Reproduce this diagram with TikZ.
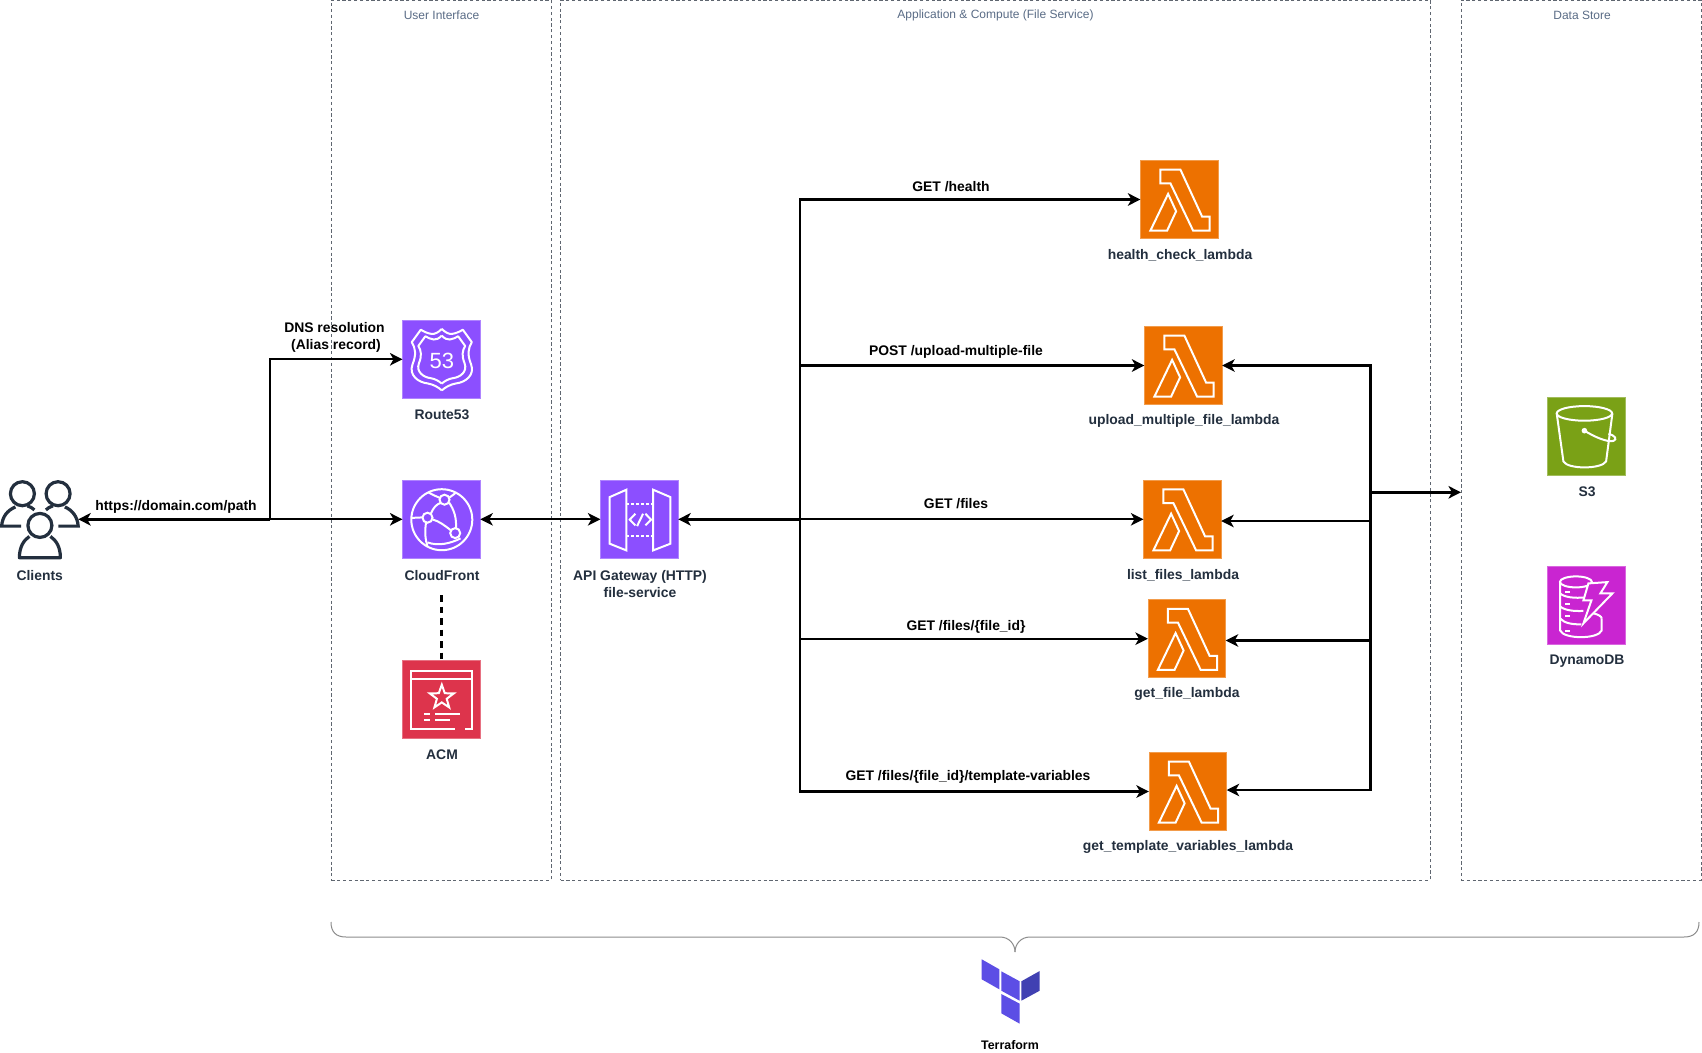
\documentclass[tikz,border=0pt]{standalone}
\usepackage{fontspec}
\setmainfont{Liberation Sans}
\usetikzlibrary{arrows.meta}
\definecolor{ink}{HTML}{232F3E}
\definecolor{groupc}{HTML}{5F6670}
\definecolor{grouptext}{HTML}{5A6C86}
\definecolor{lambdac}{HTML}{ED7100}
\definecolor{purplec}{HTML}{8C4FFF}
\definecolor{redc}{HTML}{DD344C}
\definecolor{greenc}{HTML}{7AA116}
\definecolor{pinkc}{HTML}{C925D1}
\definecolor{tfa}{HTML}{5C4EE5}
\definecolor{tfb}{HTML}{4040B2}
\tikzset{
  icon/.style={minimum size=77.8pt,inner sep=0,outer sep=0,line width=.8pt},
  lambdaicon/.style={icon,fill=lambdac,draw=lambdac!70!white},
  purpleicon/.style={icon,fill=purplec,draw=purplec!70!white},
  redicon/.style={icon,fill=redc,draw=redc!70!white},
  greenicon/.style={icon,fill=greenc,draw=greenc!70!white},
  pinkicon/.style={icon,fill=pinkc,draw=pinkc!70!white},
  glyph/.style={draw=white,line width=2pt,line join=miter,fill=none},
  svc/.style={font=\bfseries\fontsize{13.9}{17}\selectfont,text=ink,align=center,inner sep=0,outer sep=0,yshift=-1.1pt},
  edgelabel/.style={font=\bfseries\fontsize{13.9}{17}\selectfont,text=black,align=center,inner sep=0,outer sep=0,yshift=-1.1pt},
  grouplabel/.style={font=\fontsize{12}{14}\selectfont,text=grouptext,inner sep=0,outer sep=0,yshift=-.6pt},
  groupbox/.style={draw=groupc,line width=.8pt,dash pattern=on 3.2pt off 2.6pt,inner sep=0,outer sep=0},
  conn/.style={draw=black,line width=2.2pt,-{Stealth[length=12.5pt,width=12.5pt,inset=3.5pt]}},
  connboth/.style={conn,{Stealth[length=12.5pt,width=12.5pt,inset=3.5pt]}-{Stealth[length=12.5pt,width=12.5pt,inset=3.5pt]}},
  heavy/.style={line width=3.2pt},
  plainline/.style={draw=black,line width=2.2pt},
  bracec/.style={draw=black!45,line width=1pt},
}
\newcommand{\lambdaglyph}[1]{%
  \begin{scope}[shift={(#1.north west)}]
    \draw[glyph] (20,9)--(40,9)--(61.7,56)--(69.3,56)--(69.3,70)--(52.7,70)--(30,22.7)--(20,22.7)--cycle;
    \draw[glyph] (27.7,33.3)--(35.7,50.7)--(26.7,70)--(10,70)--cycle;
  \end{scope}}
\newcommand{\halfshield}{%
  \draw[glyph,line join=round] (39.3,8.5) .. controls (36,12) and (32,14) .. (29,13.5) .. controls (25,13) and (21,11) .. (18.3,9.3) -- (9.3,21.7) .. controls (13,28) and (14,34) .. (10,44) .. controls (6,55) and (16,62) .. (25,63) .. controls (31,64) and (36,67) .. (39.3,70);}
\begin{document}
\begin{tikzpicture}[x=1pt,y=-1pt]
\useasboundingbox (0,0) rectangle (1702,1052);
\fill[white] (0,0) rectangle (1702,1052);

% groups
\node[groupbox,minimum width=219.6pt,minimum height=880pt,anchor=north west] (uigroup) at (331.4,0) {};
\node[groupbox,minimum width=869.4pt,minimum height=880pt,anchor=north west] (appgroup) at (560.6,0) {};
\node[groupbox,minimum width=240pt,minimum height=880pt,anchor=north west] (datagroup) at (1461,0) {};
\node[grouplabel] (uilabel) at (441.5,15) {User Interface};
\node[grouplabel] (applabel) at (995.5,15) {Application \& Compute (File Service)};
\node[grouplabel] (datalabel) at (1582,15) {Data Store};

% icons
\node[icon] (clients) at (39.3,519.3) {};
\node[purpleicon] (route53) at (441.4,359.3) {};
\node[purpleicon] (cloudfront) at (441.4,519.3) {};
\node[redicon] (acm) at (441.4,699.3) {};
\node[purpleicon] (api) at (639.3,519.3) {};
\node[lambdaicon] (health) at (1179.3,199.5) {};
\node[lambdaicon] (upload) at (1183.3,365.5) {};
\node[lambdaicon] (listf) at (1182.3,519.3) {};
\node[lambdaicon] (getfile) at (1186.8,638.7) {};
\node[lambdaicon] (gettpl) at (1187.8,791.5) {};
\node[greenicon] (s3) at (1586.3,436.3) {};
\node[pinkicon] (dynamo) at (1586.3,605.3) {};

% glyphs
\lambdaglyph{health}\lambdaglyph{upload}\lambdaglyph{listf}\lambdaglyph{getfile}\lambdaglyph{gettpl}

% clients glyph
\begin{scope}[shift={(clients.north west)},ink,line width=3.2pt]
  \draw (22,13.3) circle (12);
  \draw (57.7,13.3) circle (12);
  \draw (39.5,45) circle (12);
  \draw (20.7,45.7) -- (1.2,45.7) .. controls (2,36) and (7,30) .. (15,26.5);
  \draw (27,25.5) .. controls (30,26.5) and (32,27.5) .. (34,29.5);
  \draw (58,45.7) -- (77.8,45.7) .. controls (77,36) and (72,30) .. (64.5,26.5);
  \draw (52.5,25.5) .. controls (49.5,26.5) and (47.5,27.5) .. (45.5,29.5);
  \draw[line join=round] (29,56) .. controls (23,60) and (19,67) .. (19,77.3) -- (60,77.3) .. controls (60,67) and (56,60) .. (50,56);
\end{scope}

% route53 glyph
\begin{scope}[shift={(route53.north west)}]
  \halfshield
  \begin{scope}[shift={(78.6,0)},xscale=-1]\halfshield\end{scope}
  \begin{scope}[shift={(8.6,8.6)},scale=.78]
    \halfshield
    \begin{scope}[shift={(78.6,0)},xscale=-1]\halfshield\end{scope}
  \end{scope}
  \node[text=white,font=\fontsize{22}{22}\selectfont,inner sep=0] (r53num) at (39.3,40.5) {53};
\end{scope}

% cloudfront glyph
\begin{scope}[shift={(cloudfront.north west)}]
  \draw[glyph] (39.3,39.3) circle (30.5);
  \draw[glyph] (28.5,33) .. controls (31,27) and (34,24) .. (38,22.5);
  \draw[glyph] (46.5,22) .. controls (52,30) and (54,38) .. (53.5,47.5);
  \draw[glyph] (30,39) .. controls (37,41) and (42,45) .. (48.5,50);
  \draw[glyph] (9,37.5) -- (20,37);
  \draw[glyph] (23.5,42.5) .. controls (22,52) and (23,60) .. (25,66);
  \draw[glyph] (26,12) .. controls (31,15) and (34,16) .. (37.5,17.5);
  \draw[glyph] (47,17) .. controls (50,15) and (52,13.5) .. (53,12.5);
  \draw[glyph] (25,62) .. controls (36,66) and (48,63) .. (58,58);
  \draw[glyph,fill=purplec] (42,19.3) circle (5);
  \draw[glyph,fill=purplec] (25,37.3) circle (5);
  \draw[glyph,fill=purplec] (52.7,52.7) circle (5);
\end{scope}

% acm glyph
\begin{scope}[shift={(acm.north west)}]
  \draw[glyph] (52,68.3) -- (8.3,68.3) -- (8.3,10.7) -- (69.3,10.7) -- (69.3,68.3) -- (62,68.3);
  \draw[glyph] (8.3,18.3) -- (69.3,18.3);
  \draw[glyph] (39.3,24.3) -- (42.3,32.8) -- (51.3,33) -- (44.2,38.4) -- (46.7,47) -- (39.3,42) -- (31.9,47) -- (34.4,38.4) -- (27.3,33) -- (36.3,32.8) -- cycle;
  \draw[glyph] (21.7,54) -- (27.7,54) (32.7,54) -- (57,54) (21.7,59.3) -- (27.7,59.3) (32.7,59.3) -- (47.7,59.3);
\end{scope}

% api gateway glyph
\begin{scope}[shift={(api.north west)}]
  \draw[glyph] (9.3,16.7) -- (26,9.3) -- (26,70) -- (9.3,63.3) -- cycle;
  \draw[glyph] (52.7,9.3) -- (70,16.7) -- (70,63.3) -- (52.7,70) -- cycle;
  \draw[glyph,dash pattern=on 3pt off 2pt] (26,24) -- (52.7,24) (26,56) -- (52.7,56);
  \draw[glyph] (35,33.3) -- (29.3,39.3) -- (35,45);
  \draw[glyph] (42.7,33.3) -- (36.7,45.7);
  \draw[glyph] (45,33.3) -- (50.7,39.3) -- (45,45);
\end{scope}

% s3 glyph
\begin{scope}[shift={(s3.north west)}]
  \draw[glyph] (37,16) ellipse [x radius=27.7,y radius=7.3];
  \draw[glyph] (9.3,16) -- (16,64) .. controls (20,72) and (54,72) .. (58.7,64) -- (65,16);
  \draw[glyph] (37,33.3) .. controls (48,40) and (60,45) .. (66,43.5) .. controls (70,42) and (68,38) .. (61,36.5);
  \fill[white] (37,33.3) circle (2.8);
\end{scope}

% dynamodb glyph
\begin{scope}[shift={(dynamo.north west)}]
  \draw[glyph] (28.5,15.5) ellipse [x radius=16,y radius=5.5];
  \draw[glyph] (12.7,15.5) -- (12.7,64) .. controls (16,73) and (51,73) .. (54.3,64) -- (54.3,52);
  \draw[glyph] (12.7,27) .. controls (17,31) and (27,32) .. (38,31);
  \draw[glyph] (12.7,40) .. controls (17,44) and (27,45) .. (36,44.5);
  \draw[glyph] (12.7,52) .. controls (17,57) and (25,58) .. (34,58);
  \draw[glyph] (46,47) .. controls (51,48) and (54,50) .. (54.3,52);
  \draw[glyph] (18,26) -- (23,26) (18,38) -- (23,38) (18,50) -- (23,50) (18,65) -- (23,65);
  \draw[glyph,fill=pinkc] (41,17) -- (60,15.7) -- (53,27) -- (65,27) -- (36,57) -- (44,34) -- (36,34) -- cycle;
\end{scope}

% labels
\node[svc] (clientslabel) at (39.7,574) {Clients};
\node[svc] (route53label) at (442,414) {Route53};
\node[svc] (cflabel) at (442,574) {CloudFront};
\node[svc] (acmlabel) at (442,754) {ACM};
\node[svc] (apilabel) at (640,582.5) {API Gateway (HTTP)\\file-service};
\node[svc] (healthlabel) at (1180,254) {health\_check\_lambda};
\node[svc] (uploadlabel) at (1184,420) {upload\_multiple\_file\_lambda};
\node[svc] (listlabel) at (1183,574) {list\_files\_lambda};
\node[svc] (getfilelabel) at (1187,693) {get\_file\_lambda};
\node[svc] (gettpllabel) at (1188,846) {get\_template\_variables\_lambda};
\node[svc] (s3label) at (1587,491) {S3};
\node[svc] (dynamolabel) at (1587,660) {DynamoDB};

% junctions
\coordinate (dnsjog) at (270,519.3);
\coordinate (lbus) at (800,519.3);
\coordinate (rbus) at (1370.5,492.3);
\coordinate (cfdash) at (441.4,595);

% connectors
\draw[conn,heavy] (dnsjog) -- (clients.east);
\draw[conn] (dnsjog) -- (cloudfront.west);
\draw[conn] (dnsjog) |- (route53.west);
\draw[connboth] (cloudfront.east) -- (api.west);
\draw[plainline,dash pattern=on 6.5pt off 5pt] (cfdash) -- (acm.north);
\draw[conn,heavy] (lbus) -- (api.east);
\draw[conn] (lbus) |- (health.west);
\draw[conn] (lbus) |- (upload.west);
\draw[conn] (lbus) -- (listf.west);
\draw[conn] (lbus) |- (getfile.west);
\draw[conn] (lbus) |- (gettpl.west);
\draw[conn] (rbus) |- (upload.east);
\draw[conn] (rbus) |- ([yshift=-1.7pt]listf.east);
\draw[conn] (rbus) |- ([yshift=-1.8pt]getfile.east);
\draw[conn] (rbus) |- ([yshift=1.5pt]gettpl.east);
\draw[conn,heavy] (rbus) -- (datagroup.west |- rbus);

% connector labels
\node[edgelabel] (dnslabel) at (334.5,336.5) {DNS resolution\\\hspace{3pt}(Alias record)};
\node[edgelabel] (urllabel) at (176,506) {https://domain.com/path};
\node[edgelabel] (gethealth) at (951,185.5) {GET /health};
\node[edgelabel] (postup) at (956,350.5) {POST /upload-multiple-file};
\node[edgelabel] (getfiles) at (956,502.5) {GET /files};
\node[edgelabel] (getid) at (966,626) {GET /files/\{file\_id\}};
\node[edgelabel] (gettv) at (968,776) {GET /files/\{file\_id\}/template-variables};

% terraform brace
\coordinate (bl) at (331,922);
\coordinate (br) at (1699,922);
\coordinate (btip) at (1015,952);
\draw[bracec] (bl) .. controls (331,932) and (336,937) .. (346,937) -- (1000,937) .. controls (1009,937) and (1015,944) .. (btip);
\draw[bracec] (br) .. controls (1699,932) and (1694,937) .. (1684,937) -- (1030,937) .. controls (1021,937) and (1015,944) .. (btip);

% terraform logo
\fill[tfa] (981.7,959.3) -- (999.3,969.3) -- (999.3,989.3) -- (981.7,979.3) -- cycle;
\fill[tfa] (1001.3,971.3) -- (1019.7,981.3) -- (1019.7,1000.7) -- (1001.3,990.7) -- cycle;
\fill[tfb] (1021.3,981.3) -- (1039.7,971) -- (1039.7,990.7) -- (1021.3,1000.7) -- cycle;
\fill[tfa] (1001.3,994) -- (1019.7,1003.7) -- (1019.7,1023.7) -- (1001.3,1013.3) -- cycle;
\node[edgelabel,font=\bfseries\fontsize{12.4}{15}\selectfont] (tflabel) at (1010,1043.5) {Terraform};
\end{tikzpicture}
\end{document}
